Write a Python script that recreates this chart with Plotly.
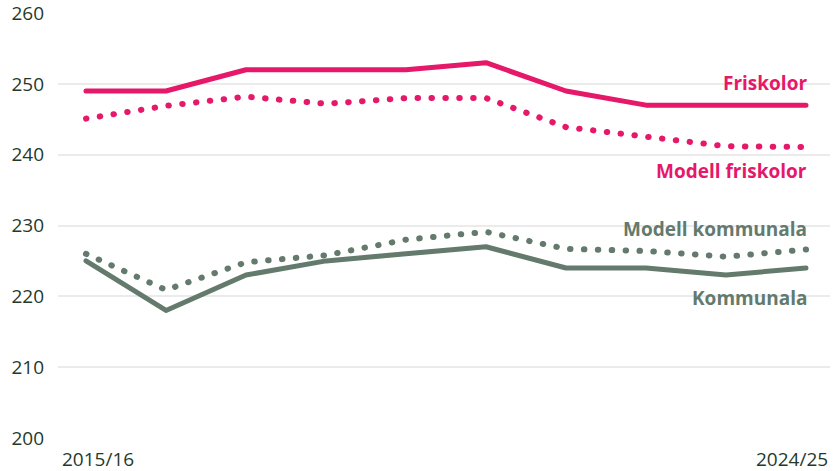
import plotly.graph_objects as go

years = ["2015/16", "2016/17", "2017/18", "2018/19", "2019/20",
         "2020/21", "2021/22", "2022/23", "2023/24", "2024/25"]
friskolor = [249, 249, 252, 252, 252, 253, 249, 247, 247, 247]
modell_friskolor = [245.1, 246.9, 248.2, 247.2, 248.0, 248.0, 243.9, 242.5, 241.2, 241.1]
kommunala = [225, 218, 223, 225, 226, 227, 224, 224, 223, 224]
modell_kommunala = [226.0, 220.9, 224.8, 225.8, 228.0, 229.1, 226.7, 226.4, 225.6, 226.6]
y_ticks = [200, 210, 220, 230, 240, 250, 260]

PINK = "#E5186A"
GREEN = "#637A6D"
TEXT = "#1F3A2B"
FONT = "Open Sans"

x = list(range(len(years)))

fig = go.Figure()
fig.add_trace(go.Scatter(x=x, y=modell_friskolor, mode="lines",
                         line=dict(color=PINK, width=6, dash="0.5px,13.4px"),
                         hoverinfo="skip", name="Modell friskolor"))
fig.add_trace(go.Scatter(x=x, y=friskolor, mode="lines",
                         line=dict(color=PINK, width=5),
                         hoverinfo="skip", name="Friskolor"))
fig.add_trace(go.Scatter(x=x, y=modell_kommunala, mode="lines",
                         line=dict(color=GREEN, width=6, dash="0.5px,13.4px"),
                         hoverinfo="skip", name="Modell kommunala"))
fig.add_trace(go.Scatter(x=x, y=kommunala, mode="lines",
                         line=dict(color=GREEN, width=5),
                         hoverinfo="skip", name="Kommunala"))

labels = [
    ("Friskolor", 250.2, PINK),
    ("Modell friskolor", 237.7, PINK),
    ("Modell kommunala", 229.5, GREEN),
    ("Kommunala", 219.7, GREEN),
]
for text, yv, col in labels:
    fig.add_annotation(x=x[-1], y=yv, text=f"<b>{text}</b>", showarrow=False,
                       xanchor="right", yanchor="middle", xshift=3,
                       font=dict(family=FONT, size=19, color=col))

# x-axis end labels
fig.add_annotation(x=x[0], y=0, yref="paper", text=years[0], showarrow=False,
                   xanchor="center", yanchor="middle", xshift=12, yshift=-21,
                   font=dict(family=FONT, size=19, color=TEXT))
fig.add_annotation(x=x[-1], y=0, yref="paper", text=years[-1], showarrow=False,
                   xanchor="center", yanchor="middle", xshift=-14, yshift=-21,
                   font=dict(family=FONT, size=19, color=TEXT))

fig.update_layout(
    width=837, height=471,
    margin=dict(l=58, r=7, t=13, b=33),
    paper_bgcolor="white", plot_bgcolor="white",
    showlegend=False,
    font=dict(family=FONT, size=19, color=TEXT),
    xaxis=dict(range=[-0.35, 9.3], showgrid=False, zeroline=False,
               showticklabels=False, showline=False, automargin=False),
    yaxis=dict(range=[199.98, 260.02], tickvals=y_ticks, showgrid=True,
               gridcolor="#EBEBEB", gridwidth=1.5, zeroline=False,
               showline=False, ticks="", ticklabelstandoff=13,
               automargin=False, ticklabeloverflow="allow",
               tickfont=dict(family=FONT, size=19, color=TEXT)),
)

post = """
document.body.style.margin='0';
document.querySelectorAll('.js-line').forEach(function(p){
  p.style.strokeLinecap='round';
  p.style.strokeLinejoin='round';
});
"""
fig.write_html("out.html", post_script=post, config={"displayModeBar": False})
